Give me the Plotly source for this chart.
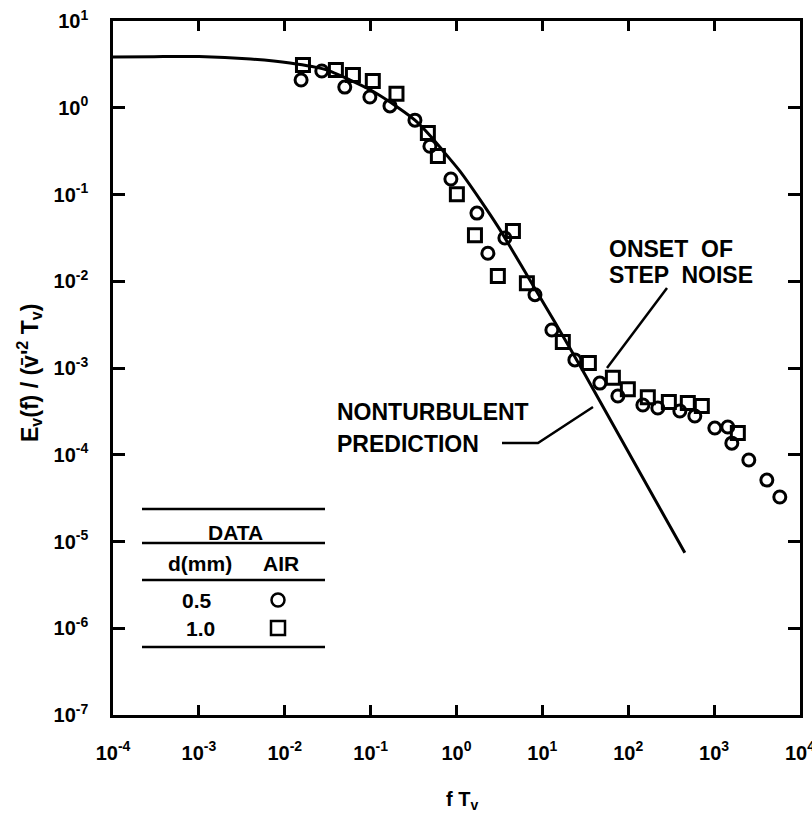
import plotly.graph_objects as go

# ---- data ----
circle_x = [0.0155, 0.027, 0.050, 0.098, 0.168, 0.328, 0.49, 0.86, 1.73, 2.32, 3.66, 8.2,
            12.9, 23.9, 46.7, 75.7, 148, 221, 399, 596, 1019, 1443, 1607, 2535, 4110, 5820]
circle_y = [2.09, 2.65, 1.73, 1.33, 1.05, 0.72, 0.36, 0.151, 0.061, 0.021, 0.0315, 0.0070,
            0.00274, 0.00124, 0.00067, 0.000475, 0.000375, 0.000346, 0.000319, 0.00028,
            0.000203, 0.000209, 0.000136, 8.7e-5, 5.1e-5, 3.26e-5]

square_x = [0.0163, 0.0394, 0.0622, 0.106, 0.2, 0.464, 0.607, 1.01, 1.64, 3.03, 4.54, 6.6,
            17.3, 34.8, 66.2, 98.9, 169, 297, 494, 719, 1888]
square_y = [3.11, 2.72, 2.39, 2.03, 1.45, 0.51, 0.278, 0.101, 0.034, 0.0115, 0.038, 0.0095,
            0.002, 0.00114, 0.00077, 0.00057, 0.00046, 0.000406, 0.000395, 0.000365, 0.000178]

pred_x = [1e-4, 3e-4, 1e-3, 4e-3, 0.0115, 0.03, 0.057, 0.1, 0.22, 0.328, 0.5, 0.695, 1.096,
          1.87, 3.2, 6.6, 14, 29.6, 456]
pred_y = [3.85, 3.88, 3.9, 3.65, 3.28, 2.75, 2.1, 1.6, 0.97, 0.72, 0.47, 0.32, 0.186,
          0.088, 0.0394, 0.0118, 0.00336, 0.00093, 7.4e-6]

x_tick_exp = [-4, -3, -2, -1, 0, 1, 2, 3, 4]
y_tick_exp = [-7, -6, -5, -4, -3, -2, -1, 0, 1]

FONT = "Liberation Sans, Arial, sans-serif"

fig = go.Figure()
fig.add_trace(go.Scatter(x=pred_x, y=pred_y, mode="lines",
                         line=dict(color="black", width=3, shape="spline", smoothing=0.6),
                         showlegend=False))
fig.add_trace(go.Scatter(x=circle_x, y=circle_y, mode="markers", showlegend=False,
                         marker=dict(symbol="circle-open", size=12, color="black",
                                     line=dict(width=3, color="black"))))
fig.add_trace(go.Scatter(x=square_x, y=square_y, mode="markers", showlegend=False,
                         marker=dict(symbol="square-open", size=13, color="black",
                                     line=dict(width=3, color="black"))))

axis_common = dict(type="log", showgrid=False, zeroline=False, showline=True,
                   linecolor="black", linewidth=2.5, mirror="ticks", ticks="inside",
                   tickcolor="black", tickwidth=2.5, ticklabeloverflow="allow",
                   automargin=False,
                   tickfont=dict(family=FONT, size=20, color="black"))

fig.update_xaxes(**axis_common, range=[-4, 4], ticklen=10,
                 tickvals=[10 ** e for e in x_tick_exp],
                 ticktext=["<b>10<sup>%d</sup></b>" % e for e in x_tick_exp],
                 ticklabelstandoff=18)
fig.update_yaxes(**axis_common, range=[-7, 1], ticklen=12,
                 tickvals=[10 ** e for e in y_tick_exp],
                 ticktext=["<b>10<sup>%d</sup></b>" % e for e in y_tick_exp],
                 ticklabelstandoff=18)

W, H = 812, 815
L, R, T, B = 113, 12, 21, 100
pw, ph = W - L - R, H - T - B


def px(xp):
    return (xp - L) / pw


def py(yp):
    return (H - B - yp) / ph


ann = []
bold = dict(family=FONT, size=23, color="black")
ann.append(dict(text="<b>E<sub>v</sub>(f) / (v\u0304'<sup>2</sup> T<sub>v</sub>)</b>",
                x=px(29), y=py(373), textangle=-90, font=dict(family=FONT, size=23, color="black")))
ann.append(dict(text="<b>f T<sub>v</sub></b>", x=px(462), y=py(800),
                font=dict(family=FONT, size=20, color="black")))
ann.append(dict(text="<b>ONSET  OF</b>", x=px(607), y=py(249), xanchor="left", font=bold))
ann.append(dict(text="<b>STEP  NOISE</b>", x=px(607), y=py(275), xanchor="left", font=bold))
ann.append(dict(text="<b>NONTURBULENT</b>", x=px(335), y=py(412), xanchor="left", font=bold))
ann.append(dict(text="<b>PREDICTION</b>", x=px(335), y=py(444), xanchor="left", font=bold))
leg = dict(family=FONT, size=21, color="black")
ann.append(dict(text="<b>DATA</b>", x=px(235), y=py(532), font=leg))
ann.append(dict(text="<b>d(mm)</b>", x=px(200), y=py(563), font=leg))
ann.append(dict(text="<b>AIR</b>", x=px(281), y=py(563), font=leg))
ann.append(dict(text="<b>0.5</b>", x=px(197), y=py(600), font=leg))
ann.append(dict(text="<b>1.0</b>", x=px(200), y=py(628), font=leg))
for a in ann:
    a.update(xref="paper", yref="paper", showarrow=False)
    a.setdefault("xanchor", "center")
    a.setdefault("yanchor", "middle")

shapes = []
line_style = dict(color="black", width=2.5)
for yy in (509, 543, 580, 647):
    shapes.append(dict(type="line", xref="paper", yref="paper", x0=px(142), x1=px(325),
                       y0=py(yy), y1=py(yy), line=line_style))
shapes.append(dict(type="line", xref="paper", yref="paper", x0=px(667), y0=py(288),
                   x1=px(607), y1=py(368), line=line_style))
shapes.append(dict(type="path", xref="paper", yref="paper",
                   path="M %f %f L %f %f L %f %f" % (px(502), py(443), px(538), py(443),
                                                     px(593), py(407)),
                   line=line_style))
shapes.append(dict(type="circle", xref="paper", yref="paper", xsizemode="pixel",
                   ysizemode="pixel", xanchor=px(278), yanchor=py(600),
                   x0=-6.5, x1=6.5, y0=-6.5, y1=6.5, line=dict(color="black", width=2.5)))
shapes.append(dict(type="rect", xref="paper", yref="paper", xsizemode="pixel",
                   ysizemode="pixel", xanchor=px(278), yanchor=py(628),
                   x0=-7, x1=7, y0=-7, y1=7, line=dict(color="black", width=2.5)))

fig.update_layout(width=W, height=H, margin=dict(l=L, r=R, t=T, b=B, autoexpand=False),
                  paper_bgcolor="white", plot_bgcolor="white",
                  annotations=ann, shapes=shapes)

fig.write_html("out.html")
